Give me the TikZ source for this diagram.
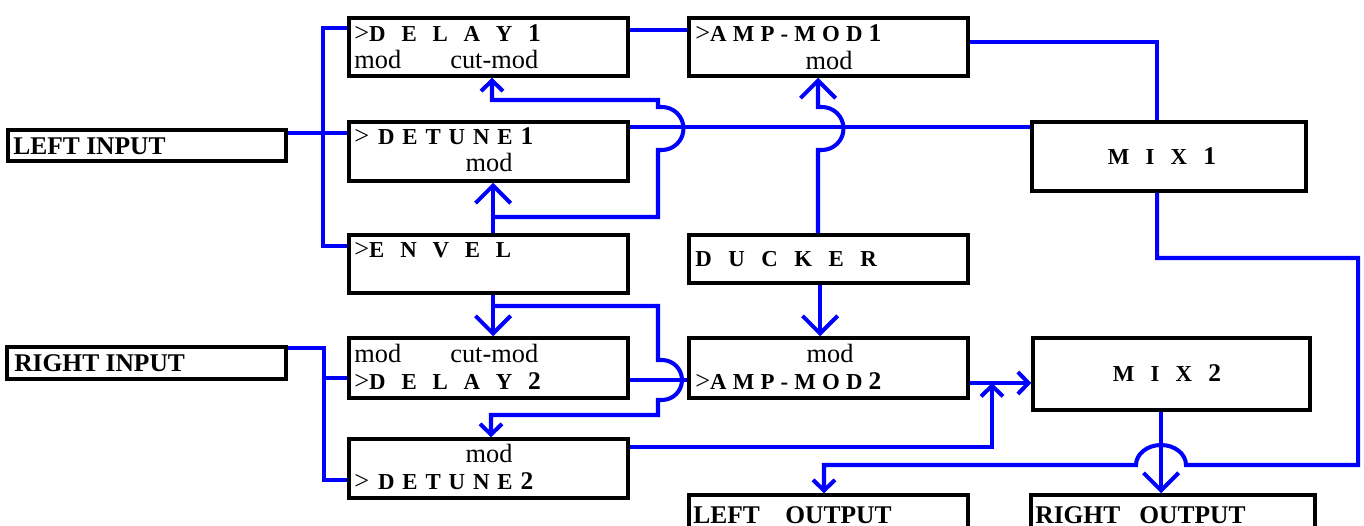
\documentclass[tikz,border=0pt]{standalone}
\usepackage{fontspec}
\setmainfont{Liberation Serif}
\usetikzlibrary{arrows.meta}
\definecolor{wireblue}{RGB}{0,0,255}
\newcommand{\spaced}[2]{{\bfseries\fontsize{13}{15}\selectfont\spaceskip=#1\relax #2}}
\newcommand{\dg}[1]{{\fontsize{14.5}{16}\selectfont #1}}
\begin{document}
\begin{tikzpicture}[x=0.02cm,y=-0.02cm,
  box/.style 2 args={draw,line width=2pt,minimum width=#1*0.02cm,minimum height=#2*0.02cm,inner sep=0pt},
  txt/.style={anchor=base west,inner sep=0pt,font=\fontsize{15}{17}\selectfont},
  ctxt/.style={anchor=base,inner sep=0pt,font=\fontsize{15}{17}\selectfont},
  lbl/.style={anchor=base west,inner sep=0pt,font=\bfseries\fontsize{14.5}{16}\selectfont},
  wire/.style={draw=wireblue,line width=2.3pt},
  big/.style={wire,-{Straight Barb[length=10pt,width=20pt]}},
  small/.style={wire,-{Straight Barb[length=6pt,width=12.5pt]}}]
\useasboundingbox (0,0) rectangle (1364,526);
\node[box={278}{31}] (lin) at (147,145.5) {};
\node[box={279}{32}] (rin) at (146.5,363) {};
\node[box={279}{58}] (d1) at (488.5,47) {};
\node[box={279}{59}] (dt1) at (488.5,151.5) {};
\node[box={279}{58}] (env) at (488.5,264) {};
\node[box={279}{60}] (d2) at (488.5,368) {};
\node[box={279}{59}] (dt2) at (488.5,468.5) {};
\node[box={279}{58}] (am1) at (828.5,47) {};
\node[box={279}{48}] (duck) at (828.5,259) {};
\node[box={279}{60}] (am2) at (828.5,368) {};
\node[box={274}{69}] (mix1) at (1169,156.5) {};
\node[box={277}{72}] (mix2) at (1171.5,374) {};
\node[box={279}{60}] (lout) at (828.5,525) {};
\node[box={284}{60}] (rout) at (1173,525) {};

\node[lbl] (lina) at (13,155) {LEFT INPUT};
\node[lbl] (rina) at (14,372) {RIGHT INPUT};
\node[txt] (d1a) at (354,42) {>\spaced{9pt}{D E L A Y \dg{1}}};
\node[txt] (d1b) at (354,69) {mod};
\node[txt] (d1c) at (450,69) {cut-mod};
\node[txt] (dt1a) at (354,145) {>\hspace{5pt}\spaced{4.5pt}{D E T U N E \dg{1}}};
\node[ctxt] (dt1b) at (489,172) {mod};
\node[txt] (enva) at (354,258) {>\spaced{9pt}{E N V E L}};
\node[txt] (d2a) at (354,362) {mod};
\node[txt] (d2b) at (450,362) {cut-mod};
\node[txt] (d2c) at (354,389) {>\spaced{9pt}{D E L A Y \dg{2}}};
\node[ctxt] (dt2a) at (489,462) {mod};
\node[txt] (dt2b) at (354,489) {>\hspace{5pt}\spaced{4.5pt}{D E T U N E \dg{2}}};
\node[txt] (am1a) at (695,42) {>\spaced{3.5pt}{A M P - M O D \dg{1}}};
\node[ctxt] (am1b) at (829,70) {mod};
\node[txt] (ducka) at (695,267) {\spaced{9.4pt}{D U C K E R}};
\node[ctxt] (am2a) at (830,362) {mod};
\node[txt] (am2b) at (695,389) {>\spaced{3.5pt}{A M P - M O D \dg{2}}};
\node[ctxt] (mix1a) at (1162,165) {\spaced{9.2pt}{M I X \dg{1}}};
\node[ctxt] (mix2a) at (1167,381) {\spaced{9.2pt}{M I X \dg{2}}};
\node[lbl] (louta) at (693,523) {LEFT~~~~OUTPUT};
\node[lbl] (routa) at (1035,523) {RIGHT~~~OUTPUT};

% inputs
\draw[wire] (lin.east |- 0,133) -- (dt1.west |- 0,133);
\draw[wire] (d1.west |- 0,28) -| (323,246) -- (env.west |- 0,246);
\draw[wire] (rin.east |- 0,348) -| (324,480) -- (dt2.west |- 0,480);
\draw[wire] (324,378) -- (d2.west |- 0,378);
% first channel
\draw[wire] (d1.east |- 0,30) -- (am1.west |- 0,30);
\draw[wire] (dt1.east |- 0,127) -- (mix1.west |- 0,127);
\draw[wire] (am1.east |- 0,42) -| (mix1.north -| 1157,0);
\draw[big] (env.north -| 493,0) -- (dt1.south -| 493,0);
\draw[small] (493,217) -| (658,150) -- (662,150) arc[start angle=-90,end angle=90,radius=0.43cm] -- (658,107) |- (492,100) -- (d1.south -| 492,0);
\draw[big] (duck.north -| 818,0) -- (818,150) -- (822,150) arc[start angle=-90,end angle=90,radius=0.43cm] -- (818,107) -- (am1.south -| 818,0);
% second channel
\draw[big] (env.south -| 493,0) -- (d2.north -| 493,0);
\draw[small] (493,306) -| (658,360) -- (662,360) arc[start angle=90,end angle=-90,radius=0.4cm] -- (658,400) |- (491,415) -- (dt2.north -| 491,0);
\draw[wire] (d2.east |- 0,380) -- (am2.west |- 0,380);
\draw[big] (duck.south -| 820,0) -- (am2.north -| 820,0);
\draw[small] (am2.east |- 0,383) -- (mix2.west |- 0,383);
\draw[small] (dt2.east |- 0,447) -| (992,383);
% outputs
\draw[big] (mix2.south -| 1161,0) -- (rout.north -| 1161,0);
\draw[small] (mix1.south -| 1157,0) |- (1358,258) |- (1186,465) arc[start angle=0,end angle=180,x radius=0.5cm,y radius=0.4cm] -- (824,465) -- (lout.north -| 824,0);
\end{tikzpicture}
\end{document}
